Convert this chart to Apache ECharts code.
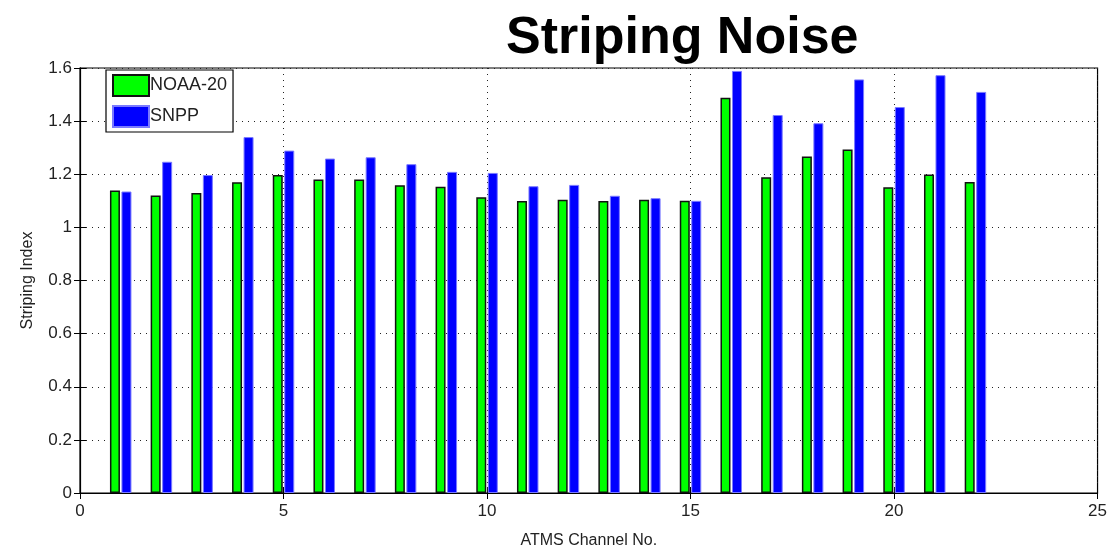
<!DOCTYPE html>
<html><head><meta charset="utf-8">
<script src="https://cdn.jsdelivr.net/npm/echarts@6/dist/echarts.min.js"></script>
<style>html,body{margin:0;padding:0;background:#fff}#c{width:1110px;height:554px}</style>
</head><body><div id="c"></div>
<script>
const channels = [1,2,3,4,5,6,7,8,9,10,11,12,13,14,15,16,17,18,19,20,21,22];
const noaa20 = [1.139,1.120,1.129,1.170,1.197,1.180,1.180,1.159,1.153,1.113,1.099,1.104,1.099,1.104,1.100,1.488,1.189,1.267,1.293,1.151,1.199,1.171];
const snpp   = [1.135,1.247,1.197,1.340,1.289,1.259,1.264,1.238,1.209,1.205,1.155,1.160,1.119,1.110,1.100,1.589,1.423,1.392,1.557,1.453,1.573,1.510];
const xTicks = [0,5,10,15,20,25];
const yTicks = [0,0.2,0.4,0.6,0.8,1,1.2,1.4,1.6];

const font = "'Liberation Sans Narrow','Liberation Sans',Arial,sans-serif";
const chart = echarts.init(document.getElementById('c'));
const grid = {left:80, right:8, top:68, bottom:56, show:true, borderColor:'#000', borderWidth:1.2};
const dotted = {show:true, lineStyle:{color:'#222', type:[1,5], width:1}};
chart.setOption({
  animation:false,
  title:{text:'Striping Noise', left:501, top:8,
    textStyle:{fontFamily:"'Liberation Sans',Arial,sans-serif", fontWeight:'bold', fontSize:52, color:'#000'}},
  grid:grid,
  legend:{orient:'vertical', left:106, top:70, itemWidth:36, itemHeight:21, itemGap:8,
    padding:[4,6,4,6], borderColor:'#000', borderWidth:1.2, backgroundColor:'#fff',
    textStyle:{fontFamily:font, fontSize:18, color:'#222', padding:[0,0,0,-4]},
    data:[{name:'NOAA-20', icon:'rect'},{name:'SNPP', icon:'rect'}]},
  xAxis:[{type:'value', min:0, max:25, interval:5, position:'bottom',
    name:'ATMS Channel No.', nameLocation:'middle', nameGap:40,
    nameTextStyle:{fontFamily:font, fontSize:16, color:'#222'},
    axisLine:{show:true, onZero:false, lineStyle:{color:'#000', width:1.2}},
    axisTick:{show:true, inside:true, length:6, lineStyle:{color:'#000'}},
    axisLabel:{fontFamily:font, fontSize:17, color:'#222', margin:10,
      formatter:v=>xTicks.includes(v)?String(v):''},
    splitLine:dotted},
   {type:'value', min:0, max:25, interval:5, position:'top',
    axisLine:{show:true, lineStyle:{color:'#000'}}, axisTick:{show:true, inside:true, length:6, lineStyle:{color:'#000'}},
    axisLabel:{show:false}, splitLine:{show:false}}],
  yAxis:[{type:'value', min:0, max:1.6, interval:0.2,
    name:'Striping Index', nameLocation:'middle', nameGap:44,
    nameTextStyle:{fontFamily:font, fontSize:16, color:'#222'},
    axisLine:{show:true, lineStyle:{color:'#000', width:1.2}},
    axisTick:{show:true, inside:true, length:6, lineStyle:{color:'#000'}},
    axisLabel:{fontFamily:font, fontSize:17, color:'#222', margin:8,
      formatter:v=>{const t=yTicks.find(a=>Math.abs(a-v)<1e-6);return t===undefined?'':String(t);}},
    splitLine:dotted},
   {type:'value', min:0, max:1.6, interval:0.2, position:'right',
    axisLine:{show:true, lineStyle:{color:'#000'}}, axisTick:{show:true, inside:true, length:6, lineStyle:{color:'#000'}},
    axisLabel:{show:false}, splitLine:{show:false}}],
  series:[
    {name:'NOAA-20', type:'bar', barWidth:10, barGap:'15%',
     itemStyle:{color:'#00ff00', borderColor:'#111', borderWidth:1.5},
     data:channels.map((c,i)=>[c,noaa20[i]])},
    {name:'SNPP', type:'bar', barWidth:10, barGap:'15%',
     itemStyle:{color:'#0000ff', borderColor:'#7a7aff', borderWidth:1},
     data:channels.map((c,i)=>[c,snpp[i]])}
  ]
});
</script></body></html>
